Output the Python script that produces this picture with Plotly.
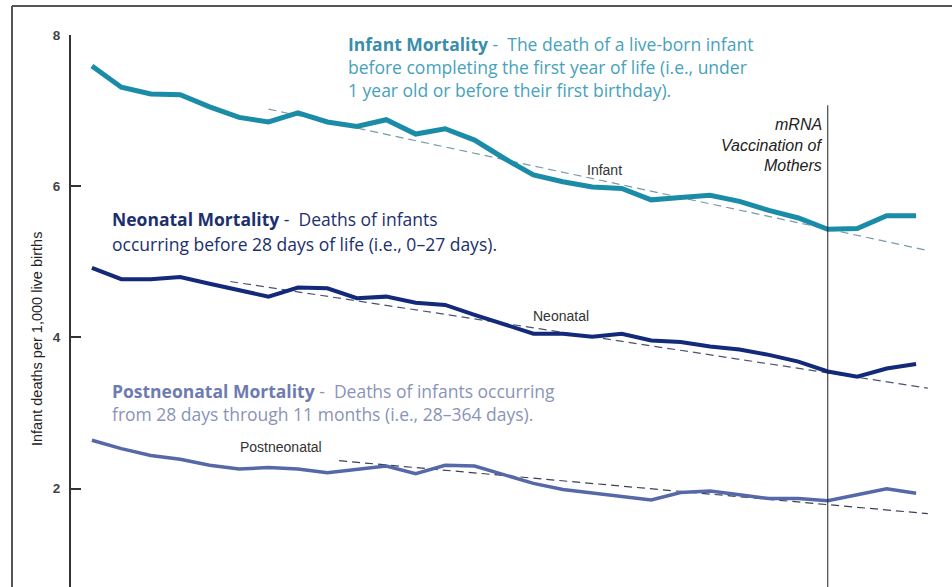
import plotly.graph_objects as go

years = list(range(1995, 2024))
infant = [7.59, 7.31, 7.22, 7.21, 7.05, 6.91, 6.85, 6.97, 6.85, 6.79, 6.88, 6.69, 6.76, 6.61,
          6.37, 6.15, 6.06, 5.99, 5.97, 5.82, 5.85, 5.88, 5.80, 5.68, 5.58, 5.43, 5.44, 5.61, 5.61]
neonatal = [4.92, 4.77, 4.77, 4.80, 4.71, 4.63, 4.54, 4.66, 4.65, 4.52, 4.54, 4.46, 4.43, 4.30,
            4.18, 4.05, 4.05, 4.01, 4.05, 3.96, 3.94, 3.88, 3.84, 3.77, 3.68, 3.55, 3.48, 3.59, 3.65]
postneonatal = [2.64, 2.53, 2.44, 2.39, 2.31, 2.26, 2.28, 2.26, 2.21, 2.25, 2.30, 2.20, 2.31, 2.30,
                2.18, 2.07, 1.99, 1.94, 1.89, 1.85, 1.95, 1.97, 1.92, 1.87, 1.87, 1.84, 1.92, 2.00, 1.94]

# trend lines (start/end year and value)
infant_trend_x = [2001.0, 2023.4]
infant_trend_y = [7.02, 5.15]
neonatal_trend_x = [1999.7, 2023.4]
neonatal_trend_y = [4.74, 3.33]
postneonatal_trend_x = [2003.4, 2023.4]
postneonatal_trend_y = [2.37, 1.67]

vaccination_year = 2020
vaccination_top = 7.07
y_ticks = [2, 4, 6, 8]

C_INF = "#1a8ca8"
C_NEO = "#13297a"
C_POST = "#5668a8"

W, H = 952, 587
L, R, T, B = 71, 0, 35, 0
PW, PH = W - L - R, H - T - B


def px(x):
    return (x - L) / PW


def py(y):
    return (H - B - y) / PH


fig = go.Figure()

fig.add_trace(go.Scatter(x=infant_trend_x, y=infant_trend_y, mode="lines",
                         line=dict(color="#7a9aa8", width=1.2, dash="8px,5px"), hoverinfo="skip"))
fig.add_trace(go.Scatter(x=neonatal_trend_x, y=neonatal_trend_y, mode="lines",
                         line=dict(color="#4a5470", width=1.2, dash="8px,5px"), hoverinfo="skip"))
fig.add_trace(go.Scatter(x=postneonatal_trend_x, y=postneonatal_trend_y, mode="lines",
                         line=dict(color="#3a4058", width=1.2, dash="8px,5px"), hoverinfo="skip"))

fig.add_trace(go.Scatter(x=years, y=infant, mode="lines", name="Infant",
                         line=dict(color=C_INF, width=5)))
fig.add_trace(go.Scatter(x=years, y=neonatal, mode="lines", name="Neonatal",
                         line=dict(color=C_NEO, width=4)))
fig.add_trace(go.Scatter(x=years, y=postneonatal, mode="lines", name="Postneonatal",
                         line=dict(color=C_POST, width=3.5)))

shapes = [
    dict(type="line", xref="x", yref="y", x0=vaccination_year, x1=vaccination_year,
         y0=0, y1=vaccination_top, line=dict(color="#222", width=1)),
    dict(type="line", xref="paper", yref="paper", x0=px(12), x1=px(960), y0=py(6), y1=py(6),
         line=dict(color="#555", width=2)),
    dict(type="line", xref="paper", yref="paper", x0=px(12), x1=px(12), y0=py(6), y1=py(600),
         line=dict(color="#555", width=2)),
]

DESC_FONT = "Open Sans"
DESC_SIZE = 17.5
anns = []


def text_line(x, y, txt, color, size=DESC_SIZE, family=DESC_FONT, anchor="left"):
    anns.append(dict(xref="paper", yref="paper", x=px(x), y=py(y), text=txt, showarrow=False,
                     xanchor=anchor, yanchor="middle", align=anchor,
                     font=dict(family=family, size=size, color=color)))


text_line(346, 44, "<b><span style='color:#3a8eab'>Infant Mortality</span></b> -  The death of a live-born infant", "#46a2bb")
text_line(346, 67, "before completing the first year of life (i.e., under", "#46a2bb")
text_line(346, 90, "1 year old or before their first birthday).", "#46a2bb")

text_line(110, 219, "<b>Neonatal Mortality</b> -  Deaths of infants", "#1c2f6e")
text_line(110, 244, "occurring before 28 days of life (i.e., 0–27 days).", "#1c2f6e")

text_line(110, 391, "<b><span style='color:#6e7bb0'>Postneonatal Mortality</span></b> -  Deaths of infants occurring", "#8a93b8")
text_line(110, 414, "from 28 days through 11 months (i.e., 28–364 days).", "#8a93b8")

text_line(604, 170, "Infant", "#333", size=14, family="Arial", anchor="center")
text_line(561, 316, "Neonatal", "#333", size=14, family="Arial", anchor="center")
text_line(281, 447, "Postneonatal", "#333", size=14, family="Arial", anchor="center")

text_line(824, 124, "<i>mRNA</i>", "#222", size=16, family="Arial", anchor="right")
text_line(824, 145, "<i>Vaccination of</i>", "#222", size=16, family="Arial", anchor="right")
text_line(824, 165, "<i>Mothers</i>", "#222", size=16, family="Arial", anchor="right")

anns.append(dict(xref="paper", yref="paper", x=px(37), y=py(339), text="Infant deaths per 1,000 live births",
                 showarrow=False, textangle=-90, xanchor="center", yanchor="middle",
                 font=dict(family="Arial", size=14.5, color="#222")))

fig.update_layout(
    width=W, height=H,
    margin=dict(l=L, r=R, t=T, b=B),
    paper_bgcolor="white", plot_bgcolor="white",
    showlegend=False,
    shapes=shapes,
    annotations=anns,
    xaxis=dict(range=[1994.29, 2024.22], visible=False, showgrid=False, zeroline=False),
    yaxis=dict(range=[0.70, 8.0], tickvals=y_ticks, ticks="inside", ticklen=10, tickwidth=2,
               tickcolor="#333", showline=True, linecolor="#333", linewidth=2,
               showgrid=False, zeroline=False, ticklabelstandoff=6,
               tickfont=dict(family="Arial", size=13.5, color="#444", weight="bold")),
)

fig.write_html("out.html", config={"displayModeBar": False},
               post_script="document.body.style.margin='0';document.body.style.overflow='hidden';")
